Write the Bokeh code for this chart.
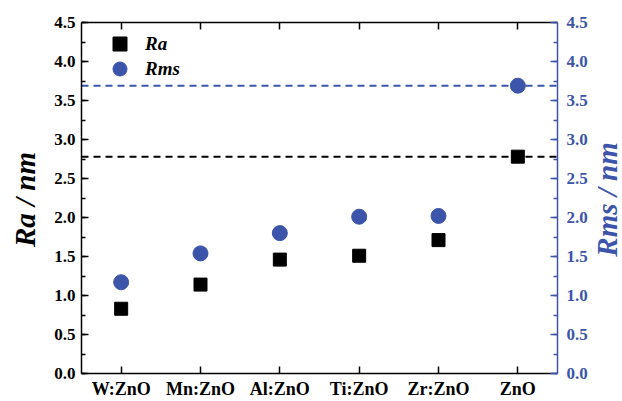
import math
from bokeh.plotting import figure
from bokeh.models import (Range1d, FactorRange, LinearAxis, CategoricalAxis,
                          SingleIntervalTicker, PrintfTickFormatter, Span, Label,
                          Legend, LegendItem, ColumnDataSource)
from bokeh.embed import file_html
from bokeh.resources import INLINE

# ---- data ----
categories = ["W:ZnO", "Mn:ZnO", "Al:ZnO", "Ti:ZnO", "Zr:ZnO", "ZnO"]
ra_values = [0.83, 1.14, 1.46, 1.51, 1.71, 2.78]
rms_values = [1.17, 1.54, 1.80, 2.01, 2.02, 3.69]
y_min, y_max, y_step = 0.0, 4.5, 0.5

BLUE = "#3C55AA"
FONT = "'Liberation Serif'"

src = ColumnDataSource(dict(cat=categories, ra=ra_values, rms=rms_values))

p = figure(width=622, height=401, x_range=FactorRange(*categories),
           y_range=Range1d(y_min, y_max), output_backend="svg",
           toolbar_location=None, min_border_left=81, min_border_right=64,
           min_border_top=22, min_border_bottom=27)
p.extra_y_ranges = {"rms": Range1d(y_min, y_max)}
p.xgrid.visible = False
p.ygrid.visible = False
p.outline_line_color = None
p.background_fill_color = "white"
p.border_fill_color = "white"

span_ra = Span(location=ra_values[-1], dimension="width", line_color="black",
               line_dash="7 5", line_width=2, level="underlay")
span_rms = Span(location=rms_values[-1], dimension="width", line_color=BLUE,
                line_dash="7 5", line_width=2, level="underlay", y_range_name="rms")
p.add_layout(span_ra)
p.add_layout(span_rms)

r_ra = p.scatter("cat", "ra", source=src, marker="square", size=13,
                 color="black")
r_rms = p.scatter("cat", "rms", source=src, marker="circle", size=15,
                  color=BLUE, y_range_name="rms")

xa = p.xaxis[0]
xa.major_label_text_font = FONT
xa.major_label_text_font_style = "bold"
xa.major_label_text_font_size = "18px"
xa.major_label_text_color = "black"
xa.major_label_text_line_height = 0.9
xa.major_tick_in = 7
xa.major_tick_out = 0
xa.axis_line_width = 1.5
xa.major_tick_line_width = 1.5
xa.major_label_standoff = 5

top = CategoricalAxis(major_label_text_font_size="0px",
                      major_label_text_color=None, major_tick_in=7,
                      major_tick_out=0, axis_line_width=1.5,
                      major_tick_line_width=1.5, major_label_standoff=0)
p.add_layout(top, "above")

def style_y(ax, color):
    ax.ticker = SingleIntervalTicker(interval=y_step, num_minor_ticks=2)
    ax.formatter = PrintfTickFormatter(format="%.1f")
    ax.major_label_text_font = FONT
    ax.major_label_text_font_style = "bold"
    ax.major_label_text_font_size = "17px"
    ax.major_label_text_color = color
    ax.axis_line_color = color
    ax.major_tick_line_color = color
    ax.minor_tick_line_color = color
    ax.axis_line_width = 1.5
    ax.major_tick_line_width = 1.5
    ax.minor_tick_line_width = 1.5
    ax.major_tick_in = 7
    ax.major_tick_out = 0
    ax.minor_tick_in = 4
    ax.minor_tick_out = 0

ya = p.yaxis[0]
style_y(ya, "black")
ya.major_label_standoff = 6

ry = LinearAxis(y_range_name="rms")
style_y(ry, BLUE)
ry.major_label_standoff = 9
p.add_layout(ry, "right")

def legend_for(renderer, label, vy):
    lg = Legend(items=[LegendItem(label=label, renderers=[renderer])],
                location=(21, vy), glyph_width=35, glyph_height=35,
                padding=0, margin=0, border_line_color=None,
                background_fill_alpha=0, label_text_font=FONT,
                label_text_font_style="bold italic", label_text_color="black",
                label_text_font_size="19px", label_standoff=8)
    p.add_layout(lg)

legend_for(r_ra, "Ra", 312)
legend_for(r_rms, "Rms", 287)

# axis titles in side panels
def side_title(side, x, text, color):
    p.add_layout(Label(x=x, y=174, x_units="screen", y_units="screen",
                       text=text, angle=math.pi / 2, text_align="center",
                       text_baseline="alphabetic", text_font=FONT,
                       text_font_style="bold italic", text_font_size="29px",
                       text_color=color), side)

side_title("left", 5, "Ra / nm", "black")
side_title("right", 16, "Rms / nm", BLUE)

open("out.html", "w").write(file_html(p, INLINE))
